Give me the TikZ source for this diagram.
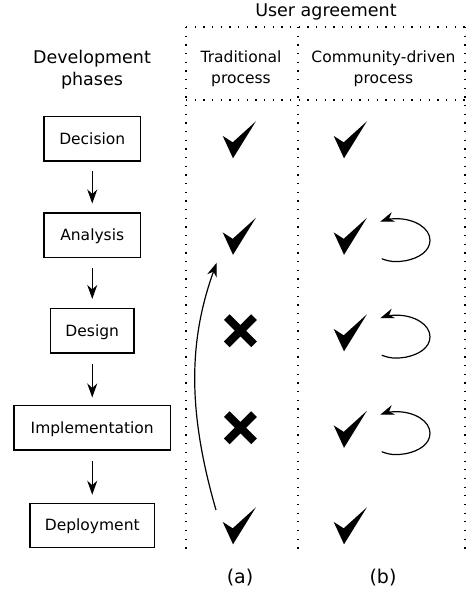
\documentclass[tikz,border=0pt]{standalone}
\usepackage{fontspec}
\setmainfont{DejaVu Sans}
\usetikzlibrary{arrows.meta}
\tikzset{
  x=1pt,y=-1pt,
  phasebox/.style={draw=black,line width=1.1pt,inner sep=0pt,minimum height=44.5pt,text height=11pt,text depth=0.4pt,font=\fontsize{15.5}{18}\selectfont},
  heading/.style={inner sep=0pt,align=center,font=\fontsize{17.5}{22}\selectfont},
  subheading/.style={inner sep=0pt,align=center,font=\fontsize{15.5}{21}\selectfont},
  caption/.style={inner sep=0pt,font=\fontsize{19}{22}\selectfont},
  flow/.style={line width=1.2pt,-{Stealth[length=14pt,width=10pt,inset=4.5pt]}},
  gridline/.style={line width=1.3pt,dash pattern=on 1.3pt off 7.37pt},
  crossline/.style={line width=8pt},
  checkmark/.pic={\fill[black] (-10,-7.4) -- (0,-1) -- (23.2,-22) -- (0.3,15) -- cycle;},
  crossmark/.pic={\draw[crossline] (-13.6,-13.6) -- (13.6,13.6) (-13.6,13.6) -- (13.6,-13.6);},
  loopmark/.pic={\draw[flow] (-15,18.5) .. controls (-5,22.5) and (2,21.5) .. (9,20.5) .. controls (22,18) and (33.3,11) .. (33.3,0) .. controls (33.3,-12) and (18,-21.5) .. (0,-21.5) .. controls (-6,-21.5) and (-11,-20.5) .. (-16.5,-18.5);}
}
\begin{document}
\begin{tikzpicture}
\useasboundingbox (0,0) rectangle (466,590);
\node[heading] (title) at (92,69.5) {Development\\phases};
\node[phasebox,minimum width=96.5pt] (decision) at (92.25,138.75) {Decision};
\node[phasebox,minimum width=96.5pt] (analysis) at (92.25,235.25) {Analysis};
\node[phasebox,minimum width=83.5pt] (design) at (92.25,330.75) {Design};
\node[phasebox,minimum width=156.5pt] (implementation) at (92.25,427.75) {Implementation};
\node[phasebox,minimum width=124.5pt] (deployment) at (92.25,525.5) {Deployment};
\draw[flow,shorten <=9.5pt,shorten >=9pt] (decision) -- (analysis);
\draw[flow,shorten <=9.5pt,shorten >=9pt] (analysis) -- (design);
\draw[flow,shorten <=10.5pt,shorten >=7.5pt] (design) -- (implementation);
\draw[flow,shorten <=10.5pt,shorten >=8pt] (implementation) -- (deployment);
\coordinate (gridNW) at (186,27);
\coordinate (gridNM) at (298,27);
\coordinate (gridNE) at (465,27);
\coordinate (gridSW) at (186,555);
\coordinate (gridSM) at (298,555);
\coordinate (gridSE) at (465,555);
\coordinate (gridW) at (186,100);
\coordinate (gridE) at (465,100);
\draw[gridline] (gridNW) -- (gridNE);
\draw[gridline] (gridW) -- (gridE);
\draw[gridline] (gridNW) -- (gridSW);
\draw[gridline] (gridNM) -- (gridSM);
\draw[gridline] (gridNE) -- (gridSE);
\node[heading,anchor=base] (agreement) at (326,16) {User agreement};
\node[subheading] (traditional) at (241,69) {Traditional\\process};
\node[subheading] (community) at (383.5,69) {Community-driven\\process};
\node[caption,anchor=base] (labela) at (240,583) {(a)};
\node[caption,anchor=base] (labelb) at (383,583) {(b)};
\pic at (232.7,143.3) {checkmark};
\pic at (232.7,239.8) {checkmark};
\pic at (232.7,529.3) {checkmark};
\pic at (343.7,143.3) {checkmark};
\pic at (343.7,239.8) {checkmark};
\pic at (343.7,336.3) {checkmark};
\pic at (343.7,432.8) {checkmark};
\pic at (343.7,529.3) {checkmark};
\pic at (240.4,330.7) {crossmark};
\pic at (240.4,427.7) {crossmark};
\pic at (396.7,240.2) {loopmark};
\pic at (396.7,336.7) {loopmark};
\pic at (396.7,433.2) {loopmark};
\coordinate (returnstart) at (216,510);
\coordinate (returnend) at (216.7,262.7);
\draw[flow] (returnstart) .. controls (188,413) and (188,342) .. (returnend);
\end{tikzpicture}
\end{document}
